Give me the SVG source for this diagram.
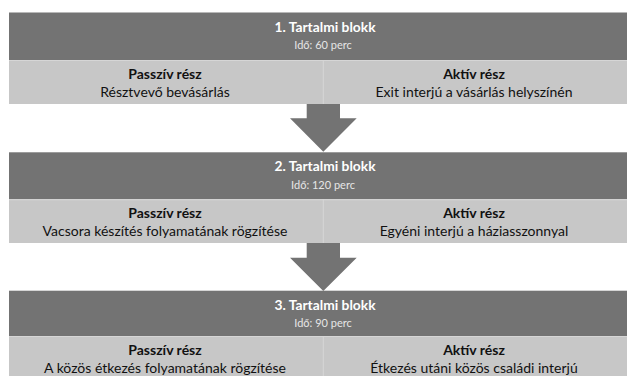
<svg xmlns="http://www.w3.org/2000/svg" width="627" height="376" viewBox="0 0 627 376">
<style>
.dark{fill:#737373}
.light{fill:#c7c7c7}
.sep{stroke:#d6d6d6;stroke-width:1}
.title{font-family:Lato,"Open Sans",sans-serif;font-weight:bold;font-size:13.8px;fill:#ffffff;text-anchor:middle}
.sub{font-family:Lato,"Open Sans",sans-serif;font-size:11px;fill:#e6e6e6;text-anchor:middle}
.lab{font-family:Lato,"Open Sans",sans-serif;font-weight:bold;font-size:14px;fill:#111111;text-anchor:middle}
.body{font-family:Lato,"Open Sans",sans-serif;font-size:14px;fill:#111111;text-anchor:middle}
.arrow{fill:#737373}
</style>
<rect width="627" height="376" fill="#ffffff"/>
<g id="connectors">
<polygon class="arrow" points="306.7,104 340,104 340,118.3 356.7,118.3 323.3,151.7 290,118.3 306.7,118.3"/>
<polygon class="arrow" points="306.7,243 340,243 340,257.7 356.7,257.7 323.3,291 290,257.7 306.7,257.7"/>
</g>
<g id="block1">
<rect class="dark" x="9" y="12.5" width="618" height="47.5"/>
<rect class="light" x="9" y="60" width="618" height="44"/>
<line class="sep" x1="9" y1="60.5" x2="627" y2="60.5"/>
<line class="sep" x1="323.3" y1="60" x2="323.3" y2="104"/>
<text class="title" x="325" y="31.5">1. Tartalmi blokk</text>
<text class="sub" x="323" y="49">Idő: 60 perc</text>
<text class="lab" x="165" y="79">Passzív rész</text>
<text class="body" x="165" y="96.7">Résztvevő bevásárlás</text>
<text class="lab" x="474" y="79">Aktív rész</text>
<text class="body" x="474" y="96.7">Exit interjú a vásárlás helyszínén</text>
</g>
<g id="block2">
<rect class="dark" x="9" y="152.3" width="618" height="47"/>
<rect class="light" x="9" y="199.3" width="618" height="43.7"/>
<line class="sep" x1="9" y1="199.8" x2="627" y2="199.8"/>
<line class="sep" x1="323.3" y1="199.3" x2="323.3" y2="243"/>
<text class="title" x="325" y="171.3">2. Tartalmi blokk</text>
<text class="sub" x="323" y="188.8">Idő: 120 perc</text>
<text class="lab" x="165" y="218.3">Passzív rész</text>
<text class="body" x="165" y="236">Vacsora készítés folyamatának rögzítése</text>
<text class="lab" x="474" y="218.3">Aktív rész</text>
<text class="body" x="474" y="236">Egyéni interjú a háziasszonnyal</text>
</g>
<g id="block3">
<rect class="dark" x="9" y="290.7" width="618" height="45.3"/>
<rect class="light" x="9" y="336" width="618" height="40"/>
<line class="sep" x1="9" y1="336.5" x2="627" y2="336.5"/>
<line class="sep" x1="323.3" y1="336" x2="323.3" y2="376"/>
<text class="title" x="325" y="309.7">3. Tartalmi blokk</text>
<text class="sub" x="323" y="327">Idő: 90 perc</text>
<text class="lab" x="165" y="355">Passzív rész</text>
<text class="body" x="165" y="372.5">A közös étkezés folyamatának rögzítése</text>
<text class="lab" x="474" y="355">Aktív rész</text>
<text class="body" x="474" y="372.5">Étkezés utáni közös családi interjú</text>
</g>
</svg>
